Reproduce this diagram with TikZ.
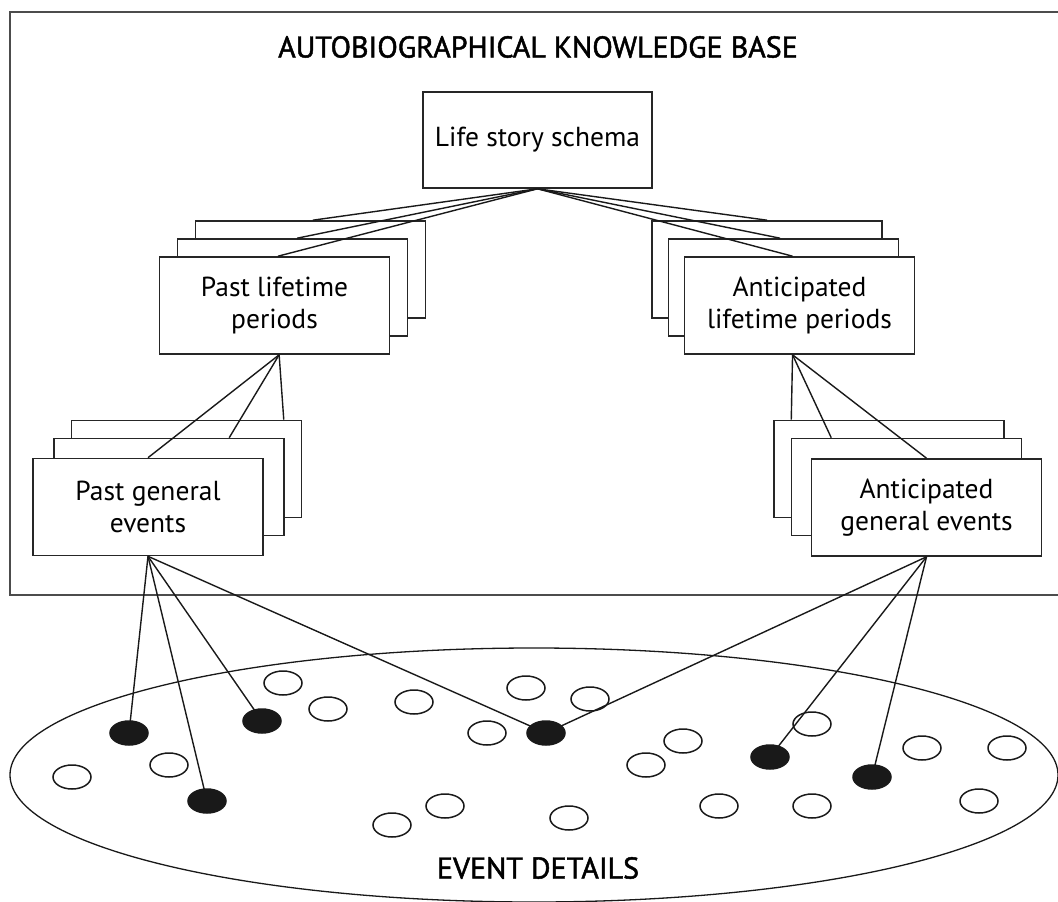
\documentclass[tikz,border=0pt]{standalone}
\usepackage{fontspec}
\setmainfont{PT Sans}
\newfontfamily\heavyfont[FakeBold=1.6]{PT Sans}
\usetikzlibrary{shapes.geometric,calc}
\begin{document}
\begin{tikzpicture}[x=1pt,y=-1pt,
  box/.style={draw=black!85,line width=1.6pt,fill=white,minimum width=230pt,minimum height=97pt,inner sep=0pt,align=center,font=\fontsize{27.5}{32}\selectfont},
  conn/.style={draw=black!90,line width=1.4pt},
  dot/.style={ellipse,draw=black!90,line width=1.5pt,minimum width=38pt,minimum height=24pt,inner sep=0pt},
  fdot/.style={dot,fill=black!90},
  caps/.style={font=\heavyfont\fontsize{30}{34}\selectfont}]
\useasboundingbox (0,0) rectangle (1058,902);
% outer frame
\draw[draw=black!70,line width=1.5pt] (10,12) rectangle (1075,595);
\node[caps] (title) at (538,47) {AUTOBIOGRAPHICAL KNOWLEDGE BASE};
% life story
\node[box,minimum width=229pt,minimum height=96pt] (ls) at (537.5,140) {Life story schema};
% past lifetime periods stack
\node[box] (pl3) at (310.5,269.5) {};
\node[box] (pl2) at (292.5,287.5) {};
\node[box] (pl1) at (274.5,305.5) {Past lifetime\\periods};
% anticipated lifetime periods stack
\node[box] (al3) at (767,269.5) {};
\node[box] (al2) at (783.5,287.5) {};
\node[box] (al1) at (799.5,305.5) {Anticipated\\lifetime periods};
% past general events stack
\node[box] (pg3) at (186.5,469) {};
\node[box] (pg2) at (169,487) {};
\node[box] (pg1) at (148,507) {Past general\\events};
% anticipated general events stack
\node[box] (ag3) at (889,469) {};
\node[box] (ag2) at (906.5,487) {};
\node[box] (ag1) at (926.5,507.5) {Anticipated\\general events};
% connectors from life story schema
\draw[conn] (ls.south) -- ($(pl3.north west)!0.51!(pl3.north east)$);
\draw[conn] (ls.south) -- ($(pl2.north west)!0.52!(pl2.north east)$);
\draw[conn] (ls.south) -- ($(pl1.north west)!0.515!(pl1.north east)$);
\draw[conn] (ls.south) -- (al3.north);
\draw[conn] (ls.south) -- ($(al2.north west)!0.485!(al2.north east)$);
\draw[conn] (ls.south) -- ($(al1.north west)!0.47!(al1.north east)$);
% connectors to general events
\coordinate (plb) at ($(pl1.south west)!0.52!(pl1.south east)$);
\draw[conn] (plb) -- (pg1.north);
\draw[conn] (plb) -- ($(pg2.north west)!0.76!(pg2.north east)$);
\draw[conn] (plb) -- ($(pg3.north west)!0.92!(pg3.north east)$);
\coordinate (alb) at ($(al1.south west)!0.47!(al1.south east)$);
\draw[conn] (alb) -- ($(ag3.north west)!0.078!(ag3.north east)$);
\draw[conn] (alb) -- ($(ag2.north west)!0.175!(ag2.north east)$);
\draw[conn] (alb) -- (ag1.north);
% event details
\node[ellipse,draw=black!90,line width=1.3pt,minimum width=1048pt,minimum height=254pt,inner sep=0pt] (ed) at (534,775) {};
\node[caps] (edt) at (538,868) {EVENT DETAILS};
% empty dots
\node[dot] (e1) at (72,777) {};
\node[dot] (e2) at (169,765) {};
\node[dot] (e3) at (283,683) {};
\node[dot] (e4) at (328,709) {};
\node[dot] (e5) at (414,702) {};
\node[dot] (e6) at (526,688) {};
\node[dot] (e7) at (590,699) {};
\node[dot] (e8) at (487,733) {};
\node[dot] (e9) at (683,741) {};
\node[dot] (e10) at (646,765) {};
\node[dot] (e11) at (445,806) {};
\node[dot] (e12) at (392,825) {};
\node[dot] (e13) at (569,818) {};
\node[dot] (e14) at (812,724) {};
\node[dot] (e15) at (922,748) {};
\node[dot] (e16) at (1007,748) {};
\node[dot] (e17) at (979,801) {};
\node[dot] (e18) at (719,806) {};
\node[dot] (e19) at (812,806) {};
% lines to filled dots
\coordinate (pgb) at (pg1.south);
\coordinate (agb) at (ag1.south);
\coordinate (f1c) at (129,733);
\coordinate (f2c) at (262,721);
\coordinate (f3c) at (207,801);
\coordinate (f4c) at (546,733);
\coordinate (f5c) at (770,757);
\coordinate (f6c) at (872,777);
\draw[conn] (pgb) -- (f1c);
\draw[conn] (pgb) -- (f3c);
\draw[conn] (pgb) -- (f2c);
\draw[conn] (pgb) -- (f4c);
\draw[conn] (agb) -- (f4c);
\draw[conn] (agb) -- (f5c);
\draw[conn] (agb) -- (f6c);
% filled dots
\node[fdot] (f1) at (f1c) {};
\node[fdot] (f2) at (f2c) {};
\node[fdot] (f3) at (f3c) {};
\node[fdot] (f4) at (f4c) {};
\node[fdot] (f5) at (f5c) {};
\node[fdot] (f6) at (f6c) {};
\end{tikzpicture}
\end{document}
